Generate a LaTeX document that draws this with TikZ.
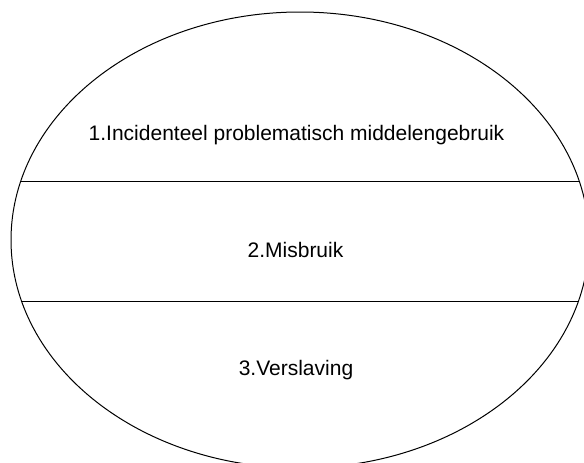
\documentclass[tikz,border=0pt]{standalone}
\usepackage{fontspec}
\setmainfont{Liberation Sans}
\usepackage{tikz}

\tikzset{
    laag/.style={font=\fontsize{21}{25}\selectfont, inner sep=0pt},
    rand/.style={line width=1pt, draw=black}
}

\begin{document}
\begin{tikzpicture}[x=1pt, y=-1pt]
            \useasboundingbox (0, 0) rectangle (584, 463);
            \clip (0, 0) rectangle (584, 463);

            \node (midden) at (300, 240) {};
            \draw[rand] (midden) ellipse [x radius=289, y radius=228];

            \coordinate (a1) at (20.8, 181);
            \coordinate (b1) at (579.2, 181);
            \coordinate (a2) at (21.5, 301);
            \coordinate (b2) at (578.5, 301);
            \draw[rand] (a1) -- (b1);
            \draw[rand] (a2) -- (b2);

            \node[laag] (1) at (296.5, 135) {1.Incidenteel problematisch middelengebruik};
            \node[laag] (2) at (295.5, 250) {2.Misbruik};
            \node[laag] (3) at (296, 370) {3.Verslaving};
        \end{tikzpicture}
\end{document}
